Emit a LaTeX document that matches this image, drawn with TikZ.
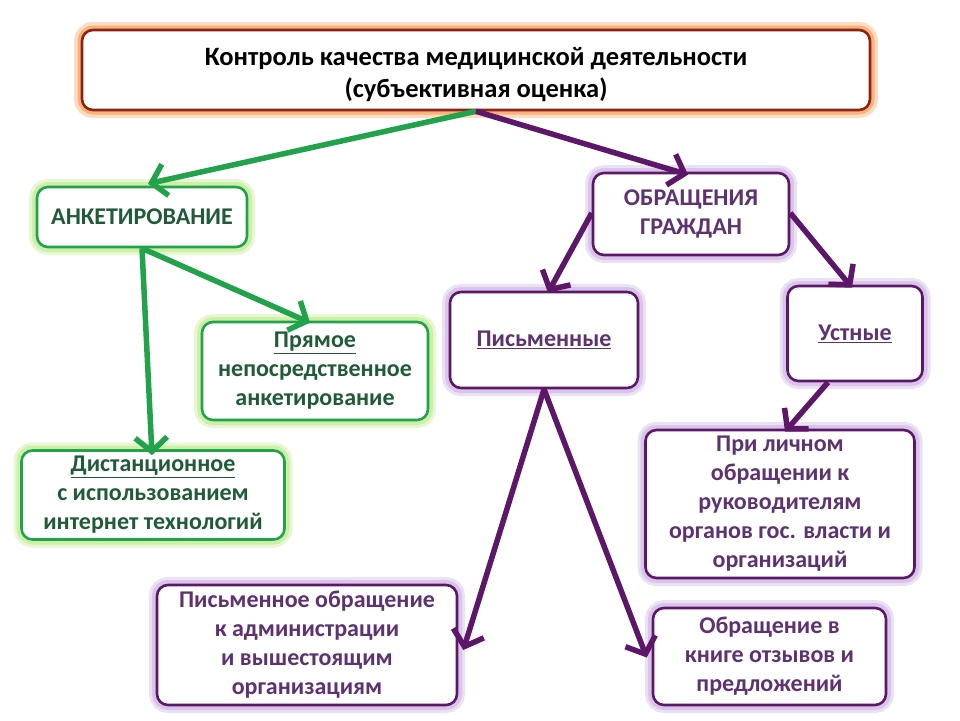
\documentclass[tikz,border=0pt]{standalone}
\usepackage{fontspec}
\setmainfont{Carlito}
\usetikzlibrary{arrows.meta}
\definecolor{gline}{HTML}{22A24B}
\definecolor{gtext}{HTML}{1F5B36}
\definecolor{gglow}{HTML}{CDEFA8}
\definecolor{pline}{HTML}{5C1768}
\definecolor{ptext}{HTML}{5E3270}
\definecolor{pglow}{HTML}{D9C4EA}
\definecolor{rline}{HTML}{8E2215}
\definecolor{rglow}{HTML}{F8B27A}
\tikzset{
  box/.style={rounded corners=11pt, fill=white, line width=2.6pt, align=center,
     inner sep=0pt, font=\fontsize{24}{29}\selectfont\bfseries},
  gbox/.style={box, draw=gline, text=gtext,
     preaction={draw=gglow!50, line width=16pt},
     preaction={draw=gglow, line width=10pt}},
  pbox/.style={box, draw=pline, text=ptext,
     preaction={draw=pglow!50, line width=16pt},
     preaction={draw=pglow, line width=10pt}},
  rbox/.style={box, draw=rline, text=black,
     preaction={draw=rglow!45, line width=16pt},
     preaction={draw=rglow, line width=9pt},
     font=\fontsize{26.5}{32}\selectfont\bfseries},
  garrow/.style={draw=gline, line width=5.5pt, -{Straight Barb[length=14pt,width=32pt]}},
  parrow/.style={draw=pline, line width=5.5pt, -{Straight Barb[length=14pt,width=32pt]}},
}
\begin{document}
\begin{tikzpicture}[x=1pt,y=-1pt]
\useasboundingbox (0,0) rectangle (960,720);
\fill[white] (0,0) rectangle (960,720);
\node[rbox, align=none, minimum width=788pt, minimum height=80pt] (title) at (476,70)
  {\raisebox{-11pt}[0pt][0pt]{\begin{tabular}{@{}c@{}}Контроль качества медицинской деятельности\\(субъективная оценка)\end{tabular}}};
\node[gbox, minimum width=210pt, minimum height=60pt] (anket) at (142,217) {АНКЕТИРОВАНИЕ};
\node[gbox, minimum width=226pt, minimum height=98pt] (pryam) at (315,371)
  {\underline{Прямое}\\непосредственное\\анкетирование};
\node[gbox, minimum width=263pt, minimum height=89pt] (dist) at (153,495)
  {\underline{Дистанционное}\\с использованием\\интернет технологий};
\node[pbox, minimum width=196pt, minimum height=82pt] (obr) at (691,214)
  {ОБРАЩЕНИЯ\\ГРАЖДАН};
\node[pbox, minimum width=188pt, minimum height=96pt] (pis) at (544,340)
  {\underline{Письменные}};
\node[pbox, minimum width=135pt, minimum height=95pt] (ust) at (855,333.5)
  {\underline{Устные}};
\node[pbox, minimum width=269pt, minimum height=148pt] (lich) at (780,504)
  {При личном\\обращении к\\руководителям\\органов гос. власти и\\организаций};
\node[pbox, minimum width=300pt, minimum height=120pt] (pisobr) at (307,645)
  {Письменное обращение\\к администрации\\и вышестоящим\\организациям};
\node[pbox, minimum width=233pt, minimum height=97pt] (kniga) at (769.5,656.5)
  {Обращение в\\книге отзывов и\\предложений};

\draw[garrow] (title.south) -- ([yshift=2pt,xshift=6pt]anket.north);
\draw[parrow] (title.south) -- ([yshift=-3pt,xshift=-3pt]obr.north);
\draw[garrow] (anket.south) -- ([yshift=-2pt,xshift=-5pt]pryam.north);
\draw[garrow] (anket.south) -- ([yshift=-6pt,xshift=-1pt]dist.north);
\draw[parrow] ([yshift=1pt]obr.west) -- ([yshift=-2pt,xshift=4pt]pis.north);
\draw[parrow] ([yshift=1pt]obr.east) -- ([yshift=-3pt,xshift=-3pt]ust.north);
\draw[parrow] ([xshift=-27pt]ust.south) -- ([yshift=-3pt,xshift=5pt]lich.north);
\draw[parrow] (pis.south) -- ([xshift=5pt,yshift=-5pt]pisobr.east);
\draw[parrow] (pis.south) -- ([xshift=-5pt,yshift=-1pt]kniga.west);
\end{tikzpicture}
\end{document}
